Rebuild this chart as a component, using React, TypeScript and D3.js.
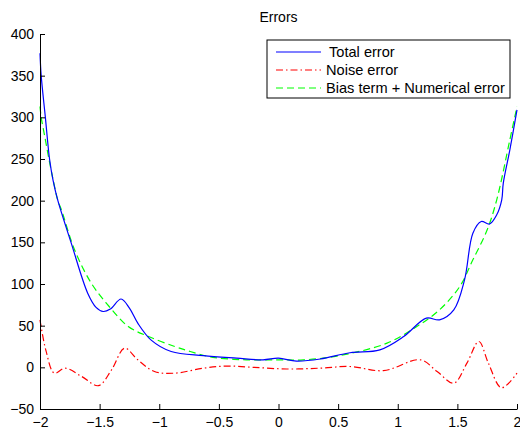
import React, {useEffect, useRef} from "react";
import * as d3 from "d3";

// values
const totalX: number[] = [-2, -1.99, -1.955, -1.92, -1.89, -1.85, -1.74, -1.6, -1.53, -1.47, -1.41, -1.32, -1.25, -1.18, -1.07, -0.9, -0.63, -0.35, -0.13, 0, 0.15, 0.35, 0.6, 0.85, 1.05, 1.24, 1.35, 1.47, 1.56, 1.63, 1.70, 1.77, 1.83, 1.872, 1.885, 1.94, 2.0];
const totalY: number[] = [377, 350, 300, 250, 224, 200, 150, 89, 72, 67, 70, 82, 71, 53, 33, 19, 14, 11, 9, 11, 7.5, 10, 17.5, 21, 37, 59, 57, 69, 105, 161, 175, 172, 183, 201, 221, 261, 309];

const noiseX: number[] = [-2, -1.95, -1.88, -1.79, -1.65, -1.51, -1.40, -1.29, -1.18, -1.04, -0.87, -0.63, -0.43, -0.21, 0.07, 0.35, 0.6, 0.88, 1.19, 1.33, 1.47, 1.58, 1.68, 1.76, 1.87, 2.0];
const noiseY: number[] = [57, 20, -7, -1, -11, -22, -3, 23, 9, -5, -7, -1, 1.5, 0, -2, -1, 1, -4, 9, -5, -19, 5, 31, 5, -24.5, -7];

const biasX: number[] = [-2, -1.99, -1.96, -1.925, -1.89, -1.85, -1.82, -1.71, -1.57, -1.42, -1.26, -1.09, -0.87, -0.74, -0.55, -0.27, 0, 0.21, 0.49, 0.91, 1.16, 1.35, 1.52, 1.63, 1.75, 1.83, 1.94, 2.0];
const biasY: number[] = [313, 300, 277, 250, 225, 200, 189, 141, 101, 73, 49, 37, 25, 19, 12, 9, 9, 9, 13.5, 29, 49, 69, 97, 129, 165, 201, 273, 313];

const xTicks: number[] = [-2, -1.5, -1, -0.5, 0, 0.5, 1, 1.5, 2];
const yTicks: number[] = [-50, 0, 50, 100, 150, 200, 250, 300, 350, 400];

const seriesNames: string[] = ["Total error", "Noise error", "Bias term + Numerical error"];
const seriesColors: string[] = ["#0000ff", "#ff0000", "#00ff00"];
const seriesDash: string[] = ["none", "7,3,1.5,3", "7,4"];

const FONT = "'Liberation Sans', Arial, Helvetica, sans-serif";

function zip(xs: number[], ys: number[]): [number, number][] {
  return xs.map((v, i) => [v, ys[i]]);
}

export default function App(): React.ReactElement {
  const svgRef = useRef<SVGSVGElement>(null);

  const W = 520, H = 431;
  const margin = {top: 34, right: 3, bottom: 22, left: 40};

  useEffect(() => {
    if (svgRef.current === null) return;
    const svg = d3.select(svgRef.current);
    svg.selectAll("*").remove();

    const x = d3.scaleLinear().domain([-2, 2]).range([margin.left, W - margin.right]);
    const y = d3.scaleLinear().domain([-50, 400]).range([H - margin.bottom, margin.top]);

    svg.append("rect").attr("width", W).attr("height", H).attr("fill", "#fff");

    // title
    svg.append("text")
      .attr("x", (x(-2) + x(2)) / 2)
      .attr("y", 22)
      .attr("text-anchor", "middle")
      .style("font-family", FONT)
      .style("font-size", "14px")
      .attr("fill", "#000")
      .text("Errors");

    const line = d3.line<[number, number]>()
      .x(d => x(d[0]))
      .y(d => y(d[1]))
      .curve(d3.curveCatmullRom.alpha(0.5));

    const series = [zip(totalX, totalY), zip(noiseX, noiseY), zip(biasX, biasY)];
    // draw bias first, then noise, then total on top
    [2, 1, 0].forEach(i => {
      svg.append("path")
        .datum(series[i])
        .attr("d", line)
        .attr("fill", "none")
        .attr("stroke", seriesColors[i])
        .attr("stroke-width", 1.2)
        .attr("stroke-dasharray", seriesDash[i]);
    });

    const fmt = (v: number) => (v < 0 ? "\u2212" : "") + String(Math.abs(v));

    const xAxis = svg.append("g")
      .attr("transform", `translate(0,${H - margin.bottom})`)
      .call(d3.axisBottom(x).tickValues(xTicks).tickSizeInner(-5).tickSizeOuter(0).tickPadding(8).tickFormat(d => fmt(+d)));
    const yAxis = svg.append("g")
      .attr("transform", `translate(${margin.left},0)`)
      .call(d3.axisLeft(y).tickValues(yTicks).tickSizeInner(-5).tickSizeOuter(0).tickPadding(6).tickFormat(d => fmt(+d)));

    [xAxis, yAxis].forEach(a => {
      a.selectAll("text").style("font-family", FONT).style("font-size", "14px").attr("fill", "#000");
      a.selectAll("path, line").attr("stroke", "#000");
    });

    // legend
    const lg = svg.append("g");
    lg.append("rect")
      .attr("x", 267).attr("y", 40).attr("width", 243).attr("height", 58)
      .attr("fill", "#fff").attr("stroke", "#000").attr("stroke-width", 1);
    const rowY = [52, 70, 88];
    seriesNames.forEach((name, i) => {
      lg.append("line")
        .attr("x1", 276).attr("x2", 321)
        .attr("y1", rowY[i]).attr("y2", rowY[i])
        .attr("stroke", seriesColors[i])
        .attr("stroke-width", 1.2)
        .attr("stroke-dasharray", seriesDash[i]);
      lg.append("text")
        .attr("x", i === 0 ? 329 : 326)
        .attr("y", rowY[i])
        .attr("dy", "0.35em")
        .style("font-family", FONT)
        .style("font-size", "14.6px")
        .attr("fill", "#000")
        .text(name);
    });
  }, []);

  return (
    <svg ref={svgRef} width={W} height={H}
         style={{position: "absolute", left: 0, top: 0, display: "block"}}></svg>
  );
}
